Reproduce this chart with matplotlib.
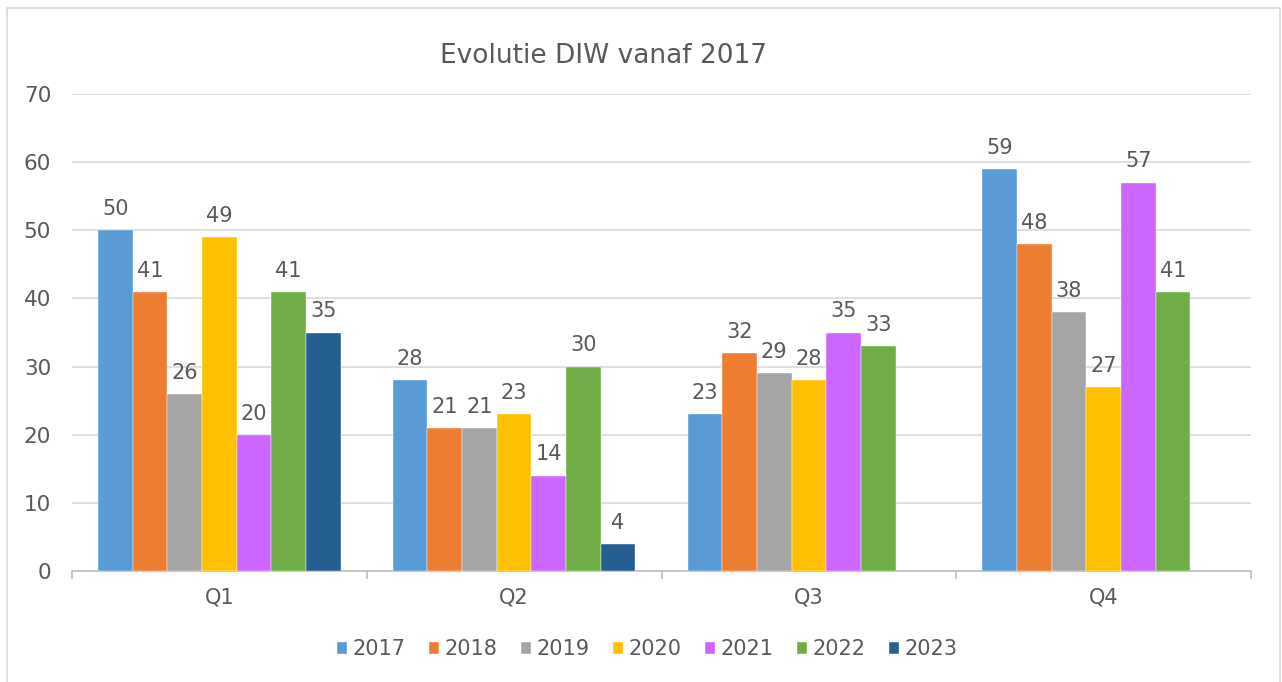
import numpy as np
import matplotlib
matplotlib.use("Agg")
import matplotlib.pyplot as plt
from matplotlib.patches import Rectangle

quarters = ["Q1", "Q2", "Q3", "Q4"]
years = ["2017", "2018", "2019", "2020", "2021", "2022", "2023"]
v2017 = [50, 28, 23, 59]
v2018 = [41, 21, 32, 48]
v2019 = [26, 21, 29, 38]
v2020 = [49, 23, 28, 27]
v2021 = [20, 14, 35, 57]
v2022 = [41, 30, 33, 41]
v2023 = [35, 4, None, None]
series = [v2017, v2018, v2019, v2020, v2021, v2022, v2023]
colors = ["#5B9BD5", "#ED7D31", "#A5A5A5", "#FFC000", "#CC66FF", "#70AD47", "#255E91"]

text_color = "#595959"
plt.rcParams["font.family"] = ["DejaVu Sans"]

fig = plt.figure(figsize=(12.82, 6.82), dpi=100)
fig.patches.append(Rectangle((7 / 1282, -0.01), 1273 / 1282, (682 - 8) / 682 + 0.01,
                             transform=fig.transFigure, fill=False,
                             edgecolor="#D9D9D9", linewidth=1.2))

ax = fig.add_axes([72 / 1282, 111 / 682, 1179 / 1282, 477 / 682])

x = np.arange(len(quarters))
width = 0.1176
for i, (vals, col, yr) in enumerate(zip(series, colors, years)):
    pos = [x[j] + (i - 3) * width for j in range(len(vals)) if vals[j] is not None]
    hts = [v for v in vals if v is not None]
    bars = ax.bar(pos, hts, width=width, color=col, label=yr, zorder=3,
                  edgecolor="white", linewidth=0.3)
    for b, h in zip(bars, hts):
        ax.annotate(str(h), (b.get_x() + b.get_width() / 2, h),
                    xytext=(0, 8), textcoords="offset points",
                    ha="center", va="bottom", fontsize=15, color=text_color)

ax.set_xlim(-0.5, 3.5)
ax.set_ylim(0, 70)
ax.set_yticks(range(0, 71, 10))
ax.yaxis.grid(True, color="#D9D9D9", linewidth=1.2, zorder=0)
ax.set_axisbelow(True)
ax.set_xticks(x)
ax.set_xticklabels(quarters)
ax.set_xticks(np.arange(-0.5, 3.6, 1.0), minor=True)
ax.tick_params(axis="x", which="major", length=0, pad=12, labelsize=15, labelcolor=text_color)
ax.tick_params(axis="x", which="minor", length=6, color="#BFBFBF", width=1.2)
ax.tick_params(axis="y", length=0, pad=15, labelsize=15.5, labelcolor=text_color)
for s in ["top", "right", "left"]:
    ax.spines[s].set_visible(False)
ax.spines["bottom"].set_color("#BFBFBF")
ax.spines["bottom"].set_linewidth(1.2)

fig.text(603 / 1282, 1 - 63 / 682, "Evolutie DIW vanaf 2017", ha="center", va="baseline",
         fontsize=19, color=text_color)

fig.legend(loc="center", bbox_to_anchor=(647 / 1282, 1 - 649 / 682), ncol=7,
           frameon=False, fontsize=15, labelcolor=text_color,
           handlelength=0.5, handleheight=0.5, handletextpad=0.25, columnspacing=1.12)

fig.savefig("out.png", dpi=100)
